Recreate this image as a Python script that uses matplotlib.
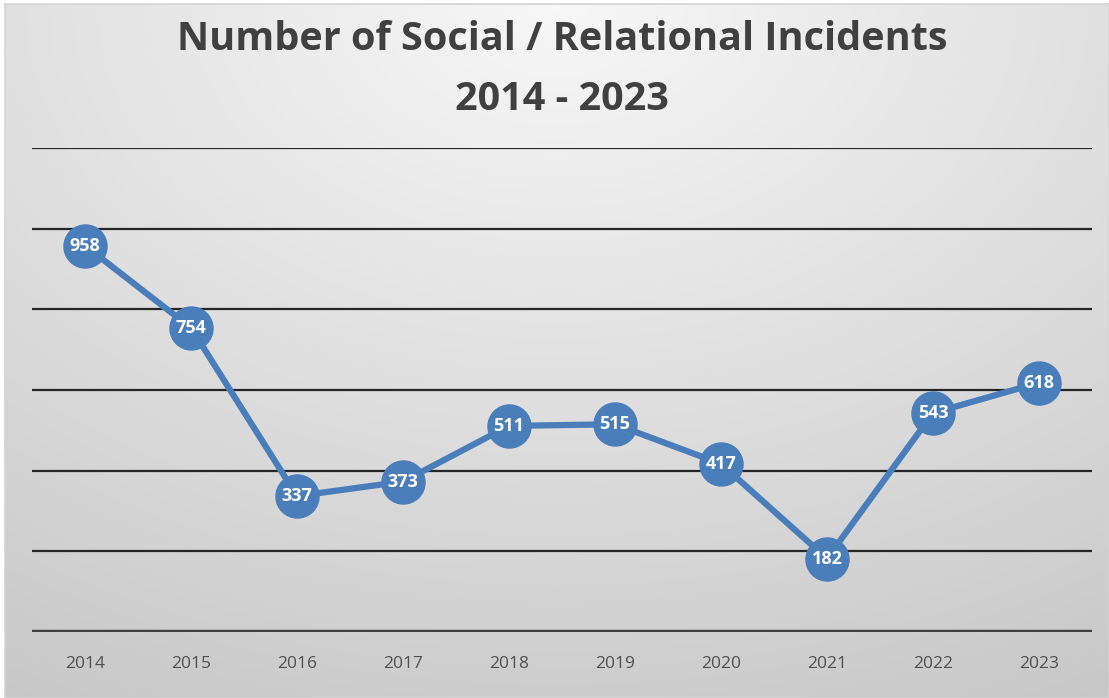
import numpy as np
import matplotlib
matplotlib.use("Agg")
import matplotlib.pyplot as plt

years = ["2014", "2015", "2016", "2017", "2018", "2019", "2020", "2021", "2022", "2023"]
incidents = [958, 754, 337, 373, 511, 515, 417, 182, 543, 618]
title_lines = ["Number of Social / Relational Incidents", "2014 - 2023"]

W, H, DPI = 1109, 698, 100
fig = plt.figure(figsize=(W / DPI, H / DPI), dpi=DPI)
fig.patch.set_facecolor("white")

# gradient chart-area background (light at top centre, grey toward bottom)
bg = fig.add_axes([5 / W, 0, 1 - 5 / W, 1 - 4 / H])
yy, xx = np.mgrid[0:1:300j, 0:1:500j]
r = np.sqrt(((xx - 0.5) * 1.1) ** 2 + (yy * 1.0) ** 2)
r = np.clip(r / 1.15, 0, 1)
top, bot = 0.97, 0.78
shade = top + (bot - top) * r
img = np.dstack([shade, shade, shade])
bg.imshow(img, aspect="auto", extent=[0, 1, 1, 0], interpolation="bilinear")
bg.set_xlim(0, 1)
bg.set_ylim(1, 0)
for s in bg.spines.values():
    s.set_color("#d4d4d4")
    s.set_linewidth(1.2)
bg.set_xticks([])
bg.set_yticks([])

ax = fig.add_axes([32 / W, (H - 632) / H, (1092 - 32) / W, (632 - 148) / H])
ax.patch.set_alpha(0)
x = np.arange(len(years))
ax.set_xlim(-0.5, len(years) - 0.5)
ax.set_ylim(0, 1200)
ax.set_yticks(np.arange(0, 1201, 200))
ax.yaxis.grid(True, color="#262626", linewidth=1.6)
ax.set_axisbelow(True)
for s in ax.spines.values():
    s.set_visible(False)
ax.axhline(0, color="#404040", linewidth=3.2, zorder=1)
ax.tick_params(axis="y", left=False, labelleft=False)
ax.tick_params(axis="x", bottom=False, pad=14)
ax.set_xticks(x)
ax.set_xticklabels(years, fontsize=12.5, color="#505050", family="Open Sans")

blue = "#4a7ebb"
ax.plot(x, incidents, color=blue, linewidth=4.5, marker="o", markersize=31,
        markerfacecolor=blue, markeredgecolor=blue, zorder=3, clip_on=False)
for xi, v in zip(x, incidents):
    ax.text(xi, v, str(v), ha="center", va="center", color="white",
            fontsize=13, fontweight="bold", family="Open Sans", zorder=4)

fig.text(562 / W, 1 - 50 / H, title_lines[0], ha="center", va="baseline",
         fontsize=28.5, fontweight="bold", color="#404040", family="Open Sans")
fig.text(562 / W, 1 - 110 / H, title_lines[1], ha="center", va="baseline",
         fontsize=28.5, fontweight="bold", color="#404040", family="Open Sans")

fig.savefig("out.png", dpi=DPI)
